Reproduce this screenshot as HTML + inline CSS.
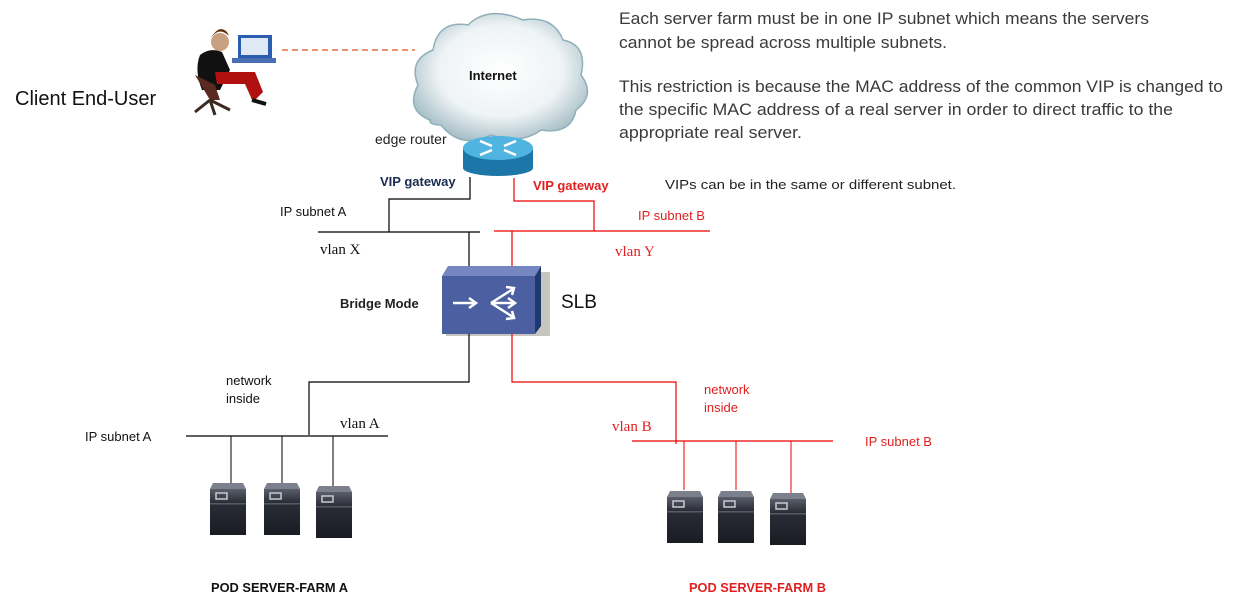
<!DOCTYPE html>
<html><head><meta charset="utf-8"><style>
html,body{margin:0;padding:0;background:#fff;}
svg{display:block;font-family:"Liberation Sans",sans-serif;}
.s{font-family:"Liberation Serif",serif;}
</style></head><body>
<svg width="1249" height="608" viewBox="0 0 1249 608" xmlns="http://www.w3.org/2000/svg">
<defs>
<radialGradient id="cl" cx="50%" cy="45%" r="60%"><stop offset="0" stop-color="#ffffff"/><stop offset="0.6" stop-color="#eef3f5"/><stop offset="1" stop-color="#9fb9c2"/></radialGradient>
<linearGradient id="sv" x1="0" y1="0" x2="0" y2="1"><stop offset="0" stop-color="#5a5e6a"/><stop offset="0.3" stop-color="#2a2d36"/><stop offset="1" stop-color="#1a1c24"/></linearGradient>
<g id="srv">
<polygon points="3,0 33,0 36,6 0,6" fill="#7c808c"/>
<rect x="0" y="6" width="36" height="46" fill="url(#sv)"/>
<rect x="0" y="20" width="36" height="1.5" fill="#555a66"/>
<rect x="6" y="10" width="11" height="6" fill="none" stroke="#c8cad0" stroke-width="1.5"/>
</g>
</defs>
<!-- person -->
<rect x="238" y="35" width="34" height="24" fill="#2a5db0"/><rect x="241" y="38" width="27" height="17" fill="#dfe8f5"/>
<rect x="232" y="58" width="44" height="5" fill="#4a6fb5"/>
<circle cx="220" cy="42" r="9" fill="#c8a080"/><path d="M211,38 q8,-12 18,-2 l-2,-4 q-8,-8 -16,6z" fill="#5a3010"/>
<path d="M200,55 q10,-8 22,-3 l8,18 l-10,20 l-18,0 q-8,-20 -2,-35z" fill="#111"/>
<path d="M215,72 l40,0 l8,20 l-10,10 l-8,-18 l-28,0z" fill="#b01010"/>
<path d="M195,75 l15,25 l10,0 l-5,-15 z" fill="#5a2a20"/>
<path d="M210,100 l-15,12 M210,100 l20,10 M210,100 l5,15" stroke="#3a2a20" stroke-width="3"/>
<path d="M252,100 l14,4" stroke="#111" stroke-width="4"/>
<line x1="282" y1="50" x2="415" y2="50" stroke="#e05020" stroke-width="1.2" stroke-dasharray="6,4"/>
<text x="15" y="105" font-size="20" fill="#111">Client End-User</text>
<!-- cloud -->
<path d="M430,120 q-25,-10 -12,-35 q-10,-25 15,-35 q5,-30 35,-25 q20,-20 55,-5 q30,-5 40,20 q25,5 18,35 q15,20 -5,35 q-5,25 -35,20 q-20,15 -50,5 q-30,15 -50,-10 q-12,0 -11,-5z" fill="url(#cl)" stroke="#8fb0ba" stroke-width="1.5"/>
<text x="469" y="80" font-size="13" font-weight="bold" fill="#111">Internet</text>
<!-- router -->
<rect x="463" y="148" width="70" height="20" fill="#1c77a8"/>
<ellipse cx="498" cy="168" rx="35" ry="8" fill="#1c77a8"/>
<ellipse cx="498" cy="148" rx="35" ry="12" fill="#4fb4e0"/>
<path d="M480,141 l12,5 M516,141 l-12,5 M480,155 l12,-5 M516,155 l-12,-5" stroke="#fff" stroke-width="2.5"/>
<text x="375" y="144" font-size="14" fill="#222">edge router</text>
<text x="380" y="186" font-size="13" font-weight="bold" fill="#1a2a50">VIP gateway</text>
<text x="533" y="190" font-size="13" font-weight="bold" fill="#e02020">VIP gateway</text>
<!-- upper lines -->
<polyline points="470,177 470,199 389,199 389,232" fill="none" stroke="#000" stroke-width="1.2"/>
<line x1="318" y1="232" x2="480" y2="232" stroke="#000" stroke-width="1.2"/>
<line x1="469" y1="232" x2="469" y2="266" stroke="#000" stroke-width="1.2"/>
<polyline points="514,178 514,201 594,201 594,231" fill="none" stroke="#e00" stroke-width="1.2"/>
<line x1="494" y1="231" x2="710" y2="231" stroke="#e00" stroke-width="1.2"/>
<line x1="512" y1="231" x2="512" y2="266" stroke="#e00" stroke-width="1.2"/>
<text x="280" y="216" font-size="13" fill="#111">IP subnet A</text>
<text class="s" x="320" y="254" font-size="15" fill="#111">vlan X</text>
<text x="638" y="220" font-size="13" fill="#e02020">IP subnet B</text>
<text class="s" x="615" y="256" font-size="15" fill="#e02020">vlan Y</text>
<text x="665" y="189" font-size="13" fill="#222" textLength="291" lengthAdjust="spacingAndGlyphs">VIPs can be in the same or different subnet.</text>
<!-- SLB -->
<rect x="446" y="272" width="104" height="64" fill="#c8c4c0"/>
<polygon points="442,276 448,266 541,266 535,276" fill="#7686c0"/>
<polygon points="535,276 541,266 541,326 535,334" fill="#1f3a6e"/>
<rect x="442" y="276" width="93" height="58" fill="#4c5fa0"/>
<path d="M453,303 h22 M469,298 l7,5 l-7,5" stroke="#fff" stroke-width="2.5" fill="none"/>
<path d="M491,303 l22,-14 M491,303 h24 M491,303 l22,14 M506,287 l8,1 l-2,7 M508,298 l7,5 l-7,5 M506,319 l8,-1 l-2,-7" stroke="#fff" stroke-width="2.5" fill="none"/>
<text x="561" y="308" font-size="19" fill="#111">SLB</text>
<text x="340" y="308" font-size="13" font-weight="bold" fill="#222">Bridge Mode</text>
<!-- lower lines -->
<polyline points="469,334 469,382 309,382 309,435" fill="none" stroke="#000" stroke-width="1.2"/>
<line x1="186" y1="436" x2="388" y2="436" stroke="#000" stroke-width="1.2"/>
<line x1="231" y1="436" x2="231" y2="483" stroke="#000"/>
<line x1="282" y1="436" x2="282" y2="483" stroke="#000"/>
<line x1="333" y1="436" x2="333" y2="486" stroke="#000"/>
<polyline points="512,334 512,382 676,382 676,444" fill="none" stroke="#e00" stroke-width="1.2"/>
<line x1="632" y1="441" x2="833" y2="441" stroke="#e00" stroke-width="1.2"/>
<line x1="684" y1="441" x2="684" y2="490" stroke="#e00"/>
<line x1="736" y1="441" x2="736" y2="490" stroke="#e00"/>
<line x1="791" y1="441" x2="791" y2="493" stroke="#e00"/>
<use href="#srv" x="210" y="483"/><use href="#srv" x="264" y="483"/><use href="#srv" x="316" y="486"/>
<use href="#srv" x="667" y="491"/><use href="#srv" x="718" y="491"/><use href="#srv" x="770" y="493"/>
<text x="226" y="385" font-size="13" fill="#111">network</text>
<text x="226" y="403" font-size="13" fill="#111">inside</text>
<text x="704" y="394" font-size="13" fill="#e02020">network</text>
<text x="704" y="412" font-size="13" fill="#e02020">inside</text>
<text x="85" y="441" font-size="13" fill="#111">IP subnet A</text>
<text class="s" x="340" y="428" font-size="15" fill="#111">vlan A</text>
<text class="s" x="612" y="431" font-size="15" fill="#e02020">vlan B</text>
<text x="865" y="446" font-size="13" fill="#e02020">IP subnet B</text>
<text x="211" y="592" font-size="13" font-weight="bold" fill="#111" textLength="137" lengthAdjust="spacingAndGlyphs">POD SERVER-FARM A</text>
<text x="689" y="592" font-size="13" font-weight="bold" fill="#e02020" textLength="137" lengthAdjust="spacingAndGlyphs">POD SERVER-FARM B</text>
<!-- paragraph -->
<g font-size="17" fill="#3a3a3a">
<text x="619" y="24" textLength="530" lengthAdjust="spacingAndGlyphs">Each server farm must be in one IP subnet which means the servers</text>
<text x="619" y="48" textLength="328" lengthAdjust="spacingAndGlyphs">cannot be spread across multiple subnets.</text>
<text x="619" y="92" textLength="604" lengthAdjust="spacingAndGlyphs">This restriction is because the MAC address of the common VIP is changed to</text>
<text x="619" y="115" textLength="554" lengthAdjust="spacingAndGlyphs">the specific MAC address of a real server in order to direct traffic to the</text>
<text x="619" y="138" textLength="183" lengthAdjust="spacingAndGlyphs">appropriate real server.</text>
</g>
</svg>
</body></html>
